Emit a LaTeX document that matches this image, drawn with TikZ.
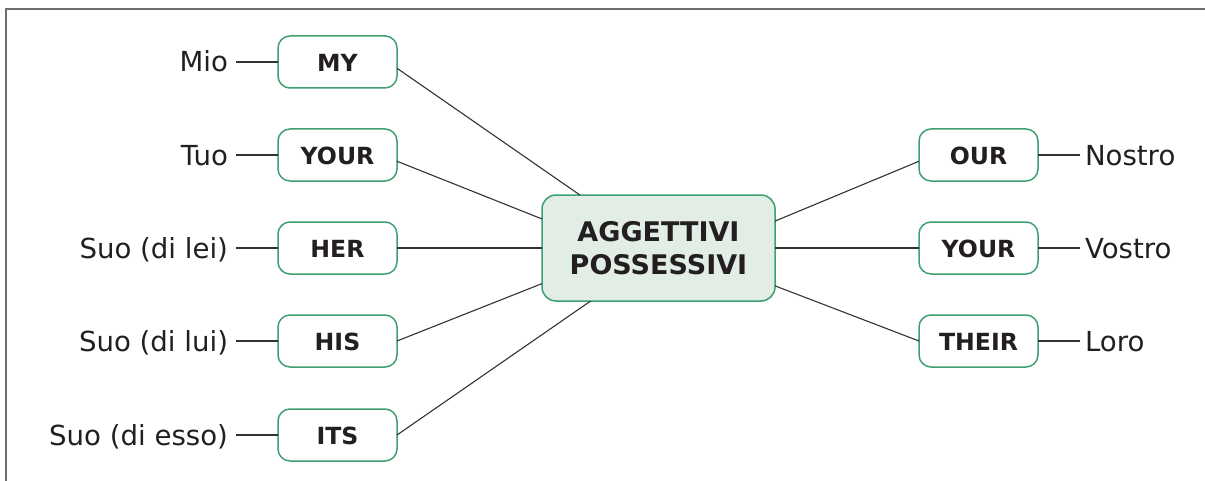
\documentclass[tikz,border=0pt]{standalone}
\usepackage{fontspec}
\setmainfont{DejaVu Sans}
\definecolor{boxgreen}{RGB}{62,160,112}
\definecolor{hubfill}{RGB}{225,237,229}
\definecolor{ink}{RGB}{35,31,32}
\definecolor{framegray}{RGB}{110,110,110}
\definecolor{linkgray}{RGB}{50,50,50}

\begin{document}
\begin{tikzpicture}[
  x=0.5pt, y=-0.5pt,
  word/.style={draw=boxgreen, line width=0.75pt, fill=white, rounded corners=6pt,
    minimum width=59.5pt, minimum height=26pt, inner sep=0pt, outer sep=0pt,
    text=ink, font=\fontsize{11.8}{14}\selectfont\bfseries,
    text height=9.9pt, text depth=0pt},
  hub/.style={draw=boxgreen, line width=0.75pt, fill=hubfill, rounded corners=7pt,
    minimum width=116.5pt, minimum height=53pt, inner sep=0pt, outer sep=0pt,
    align=center, text=ink, font=\fontsize{13.5}{16.8}\selectfont\bfseries},
  ita/.style={text=ink, font=\fontsize{13.8}{16}\selectfont,
    text height=10pt, text depth=0pt, outer sep=0pt},
  link/.style={draw=linkgray, line width=0.55pt},
]
  \useasboundingbox (0,0) rectangle (1205,481);
  % cornice: solo lato sinistro e superiore
  \draw[framegray, line width=1pt] (6,481) -- (6,9) -- (1205,9);

  % nodo centrale
  \node[hub] (agg) at (658.5,248) {AGGETTIVI\\POSSESSIVI};

  % colonna sinistra
  \node[word] (my)    at (337.5,62)  {MY};
  \node[word] (your)  at (337.5,155) {YOUR};
  \node[word] (her)   at (337.5,248) {HER};
  \node[word] (his)   at (337.5,341) {HIS};
  \node[word] (its)   at (337.5,435) {ITS};

  % colonna destra
  \node[word] (our)    at (978.5,155) {OUR};
  \node[word] (yourpl) at (978.5,248) {YOUR};
  \node[word] (their)  at (978.5,341) {THEIR};

  % traduzioni
  \node[ita, anchor=east, inner sep=4pt] (mio)     at (236,62)  {Mio};
  \node[ita, anchor=east, inner sep=4pt] (tuo)     at (236,155) {Tuo};
  \node[ita, anchor=east, inner sep=4pt] (suolei)  at (236,248) {Suo (di lei)};
  \node[ita, anchor=east, inner sep=4pt] (suolui)  at (236,341) {Suo (di lui)};
  \node[ita, anchor=east, inner sep=4pt] (suoesso) at (236,435) {Suo (di esso)};
  \node[ita, anchor=west, inner sep=2.5pt] (nostro) at (1080,155) {Nostro};
  \node[ita, anchor=west, inner sep=2.5pt] (vostro) at (1080,248) {Vostro};
  \node[ita, anchor=west, inner sep=2.5pt] (loro)   at (1080,341) {Loro};

  \draw[link] (mio) -- (my);
  \draw[link] (tuo) -- (your);
  \draw[link] (suolei) -- (her);
  \draw[link] (suolui) -- (his);
  \draw[link] (suoesso) -- (its);
  \draw[link] (our) -- (nostro);
  \draw[link] (yourpl) -- (vostro);
  \draw[link] (their) -- (loro);

  % raggi verso il centro
  \draw[link] (my.354) -- (agg.146.5);
  \draw[link] (your.354) -- (agg.166);
  \draw[link] (her.east) -- (agg.west);
  \draw[link] (his.east) -- (agg.197.8);
  \draw[link] (its.east) -- (agg.218.5);
  \draw[link] (our.186) -- (agg.13);
  \draw[link] (yourpl.west) -- (agg.east);
  \draw[link] (their.west) -- (agg.342.2);
\end{tikzpicture}
\end{document}
